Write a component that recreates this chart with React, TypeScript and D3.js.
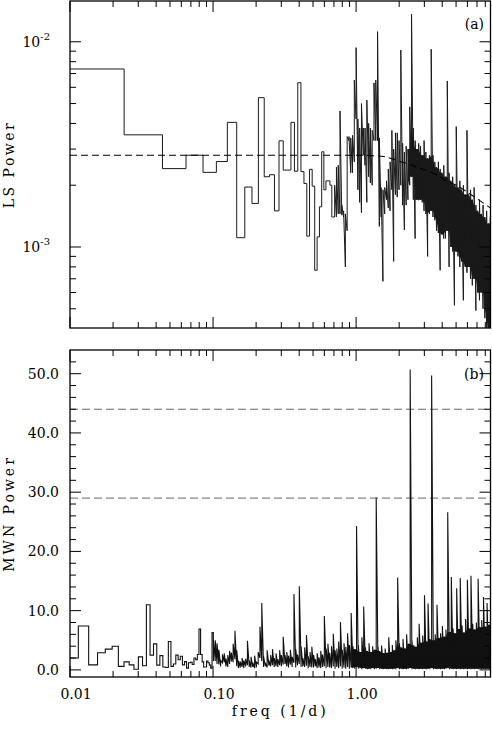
import React from 'react';
import * as d3 from 'd3';

const W = 492;
const H = 729;
const FONT = '"DejaVu Serif", serif';

// ---- panel (a): Lomb-Scargle power, in units of 1e-3 ----
// coarse bins at low frequency (centre = LS_F0 + k * LS_DF)
const LS_F0 = 0.0137;
const LS_DF = 0.0204;
const lsBinPower = [
  7.37, 3.52, 2.41, 2.8, 2.31, 2.61, 4.05, 1.11, 1.96, 1.63,
  5.34, 2.2, 2.25, 1.5, 3.29, 2.37, 2.37, 4.05, 2.34, 6.32,
  2.33, 2.04, 1.13, 2.39, 1.98, 0.77, 1.12, 1.57, 2.91, 1.9,
  2.1, 2.1, 2.0, 1.4,
];
// dense part: one column per COL_DLOG step in log10(freq), high / low power in the column
const COL_DLOG = 0.0125;
const LS_COL_LOG0 = -0.15;
const lsColHi = [
  2.0, 2.45, 2.5, 4.6, 1.6, 1.5, 1.45, 3.45, 3.45, 3.4,
  3.5, 6.5, 9.36, 4.2, 3.8, 5.0, 3.8, 3.8, 5.2, 4.0,
  3.8, 3.7, 6.3, 6.5, 11.2, 3.4, 1.95, 1.9, 1.95, 2.1,
  2.4, 2.6, 3.7, 3.0, 3.6, 3.6, 3.3, 9.12, 3.2, 2.9,
  3.1, 3.0, 4.82, 13.6, 3.8, 3.3, 3.0, 3.2, 3.1, 2.8,
  3.3, 2.9, 2.7, 2.8, 9.2, 2.8, 2.6, 2.45, 2.6, 2.4,
  2.3, 2.5, 2.2, 6.44, 2.3, 2.1, 2.2, 2.0, 3.86, 1.95,
  2.1, 1.9, 2.0, 1.8, 3.7, 1.8, 1.9, 1.7, 1.95, 1.6,
  1.5, 1.7, 1.45, 1.6, 1.4, 1.5, 1.3, 1.4,
];
const lsColLo = [
  1.4, 1.4, 1.45, 1.45, 1.43, 1.4, 0.8, 1.2, 3.3, 2.3,
  2.3, 2.6, 4.2, 1.9, 1.65, 1.47, 2.8, 2.5, 1.65, 2.2,
  2.05, 2.0, 3.3, 3.3, 3.3, 1.26, 1.4, 0.68, 1.45, 1.7,
  1.55, 1.5, 1.9, 0.85, 1.8, 1.75, 1.9, 2.0, 1.6, 1.21,
  1.6, 1.7, 2.0, 2.2, 1.7, 1.1, 1.7, 1.69, 1.7, 1.65,
  1.5, 1.45, 0.9, 1.45, 1.5, 1.4, 1.35, 1.2, 1.17, 0.77,
  1.15, 1.1, 1.1, 1.2, 0.8, 1.0, 0.95, 0.52, 0.95, 0.9,
  0.8, 0.85, 0.55, 0.8, 0.75, 0.8, 0.7, 0.65, 0.7, 0.49,
  0.6, 0.55, 0.6, 0.5, 0.45, 0.38, 0.33, 0.3,
];
const LS_SOLID_FROM = 2.3; // above this the trace is a solid mass
// noise model (dashed)
const lsModelFreq = [0.01, 0.5, 1.0, 1.5, 2.0, 2.8, 3.5, 4.3, 5.0, 6.0, 7.0, 8.7];
const lsModelPower = [2.8, 2.8, 2.8, 2.77, 2.62, 2.42, 2.28, 2.1, 2.0, 1.85, 1.72, 1.55];

// ---- panel (b): MWN power ----
const MWN_F0 = 0.0104;
const MWN_DF = 0.00207;
const mwnBinPower = [
  2.0, 7.4, 0.85, 2.9, 3.5, 4.0, 0.6, 1.35, 0.85, 0.1,
  2.2, 0.7, 11.0, 2.5, 4.4, 0.8, 2.4, 0.5, 0.4, 4.8,
  0.6, 1.0, 2.5, 1.7, 2.3, 0.85, 1.4, 0.3, 1.2, 1.3,
  0.9, 2.0, 1.7, 2.6, 6.9, 2.6, 1.35, 0.5, 0.5, 1.5,
  1.2, 0.8, 0.3, 6.3,
];
const MWN_COL_LOG0 = -0.997;
const mwnColHi = [
  5.0, 5.0, 4.5, 3.4, 1.6, 2.6, 2.8, 1.9, 2.5, 3.2,
  2.9, 4.4, 6.6, 3.3, 1.5, 1.4, 2.0, 1.6, 1.9, 4.9,
  1.6, 2.2, 1.2, 2.4, 1.3, 3.0, 7.3, 11.3, 2.3, 1.2,
  3.3, 1.6, 2.5, 3.5, 2.0, 2.8, 1.8, 3.3, 2.5, 5.6,
  2.5, 3.0, 2.4, 3.4, 2.2, 12.8, 3.5, 2.6, 14.1, 4.0,
  2.0, 3.8, 5.9, 2.3, 3.0, 3.9, 2.5, 1.8, 2.8, 2.1,
  3.2, 2.6, 9.1, 3.6, 4.4, 2.9, 4.0, 6.1, 3.3, 3.6,
  4.8, 8.1, 3.4, 4.5, 3.9, 6.2, 4.2, 9.6, 4.0, 3.5,
  24.3, 4.2, 3.0, 5.5, 10.7, 3.8, 3.2, 4.5, 3.0, 4.0,
  3.4, 29.1, 4.0, 3.2, 4.1, 2.8, 3.6, 2.9, 5.5, 3.0,
  4.2, 3.3, 5.0, 15.6, 4.5, 3.8, 5.2, 3.6, 6.0, 4.4,
  50.7, 5.0, 4.2, 3.9, 5.5, 7.8, 4.6, 5.8, 12.6, 4.8,
  11.2, 5.2, 49.7, 5.0, 6.0, 11.0, 5.4, 6.2, 7.4, 5.6,
  6.8, 26.6, 6.4, 15.7, 7.0, 6.2, 13.8, 6.9, 15.5, 7.5,
  6.3, 8.6, 15.2, 7.0, 15.9, 7.8, 6.8, 8.0, 15.4, 7.2,
  8.4, 12.3, 7.3, 11.3, 7.6, 8.2,
];
const mwnColLo = [
  1.5, 1.5, 1.0, 0.9, 0.6, 1.2, 1.3, 0.6, 0.5, 1.0,
  1.4, 1.3, 1.8, 0.6, 0.3, 0.4, 0.5, 0.3, 0.6, 0.8,
  0.5, 0.4, 0.5, 0.3, 0.4, 1.0, 2.0, 1.5, 0.5, 0.6,
  0.4, 0.7, 0.6, 0.8, 0.5, 0.6, 0.5, 0.8, 0.6, 0.9,
  1.0, 0.6, 0.4, 0.9, 0.5, 1.2, 0.4, 0.8, 1.0, 0.5,
  0.6, 0.5, 0.7, 0.3, 0.5, 0.4, 0.4, 0.6, 0.3, 0.4,
  0.3, 0.5, 0.6, 0.3, 0.5, 0.4, 0.3, 0.6, 0.2, 0.5,
  0.3, 0.6, 0.2, 0.4, 0.2, 0.5, 0.2, 0.4, 0.3, 0.2,
  0.5, 0.2, 0.3, 0.1, 0.3, 0.2, 0.1, 0.2, 0.1, 0.3,
  0.1, 0.2, 0.3, 0.1, 0.2, 0.1, 0.2, 0.1, 0.1, 0.2,
  0.1, 0.2, 0.1, 0.3, 0.1, 0.2, 0.1, 0.2, 0.1, 0.2,
  0.3, 0.1, 0.2, 0.1, 0.2, 0.1, 0.2, 0.1, 0.2, 0.1,
  0.2, 0.1, 0.3, 0.1, 0.2, 0.1, 0.2, 0.1, 0.2, 0.1,
  0.2, 0.3, 0.1, 0.2, 0.1, 0.2, 0.1, 0.2, 0.1, 0.2,
  0.1, 0.2, 0.1, 0.2, 0.1, 0.2, 0.1, 0.2, 0.1, 0.2,
  0.1, 0.2, 0.1, 0.2, 0.1, 0.2,
];
const MWN_SOLID_FROM = 0.9;
const mwnLevels = [44, 29];

const freqTickValues = [0.01, 0.1, 1];
const freqTickLabels = ['0.01', '0.10', '1.00'];
const lsTickValues = [10, 1];
const lsTickExps = ['-2', '-3'];
const mwnTickValues = [0, 10, 20, 30, 40, 50];

type Pt = [number, number];
type Band = [number, number, number];

const colFreq = (log0: number, i: number) => Math.pow(10, log0 + i * COL_DLOG);

// histogram-style bins followed by the dense columns
function tracePoints(f0: number, df: number, bins: number[], log0: number, hi: number[], lo: number[]): Pt[] {
  const pts: Pt[] = [];
  bins.forEach((v, k) => {
    const fc = f0 + k * df;
    pts.push([fc - df / 2, v], [fc + df / 2, v]);
  });
  hi.forEach((h, i) => {
    pts.push([colFreq(log0, i), lo[i]], [colFreq(log0, i), h]);
  });
  return pts;
}

// the part every neighbouring column covers: drawn solid, like the overplotted original
function coreBand(log0: number, hi: number[], lo: number[], from: number): Band[] {
  const n = hi.length;
  return hi
    .map((_, i): Band => {
      const a = Math.max(0, i - 1);
      const b = Math.min(n, i + 2);
      return [colFreq(log0, i), d3.max(lo.slice(a, b)) as number, d3.min(hi.slice(a, b)) as number];
    })
    .filter((d) => d[0] >= from);
}

function logMinors(lo: number, hi: number) {
  const out: { v: number; major: boolean }[] = [];
  for (let d = -5; d <= 2; d++) {
    for (let m = 1; m <= 9; m++) {
      const v = m * Math.pow(10, d);
      if (v >= lo * 0.9999 && v <= hi) out.push({ v, major: m === 1 });
    }
  }
  return out;
}

function App() {
  const x = d3.scaleLog().domain([0.01, 8.7]).range([70, 490.5]);
  const yLs = d3.scaleLog().domain([0.403, 15.8]).range([328, 1]);
  const yMwn = d3.scaleLinear().domain([-1.2, 54]).range([677, 350]);

  const [x0, x1] = x.range();
  const MAJ = 11;
  const MIN = 6;

  const lsPts = tracePoints(LS_F0, LS_DF, lsBinPower, LS_COL_LOG0, lsColHi, lsColLo);
  const mwnPts = tracePoints(MWN_F0, MWN_DF, mwnBinPower, MWN_COL_LOG0, mwnColHi, mwnColLo);

  const lsLine = d3.line<Pt>().x((d) => x(d[0])).y((d) => yLs(d[1]));
  const mwnLine = d3.line<Pt>().x((d) => x(d[0])).y((d) => yMwn(d[1]));
  const modelLine = d3
    .line<number>()
    .x((d) => x(d))
    .y((d, i) => yLs(lsModelPower[i]))
    .curve(d3.curveMonotoneX);

  const lsArea = d3
    .area<Band>()
    .defined((d) => d[2] > d[1])
    .x((d) => x(d[0]))
    .y0((d) => yLs(d[1]))
    .y1((d) => yLs(d[2]));
  const mwnArea = d3
    .area<Band>()
    .defined((d) => d[2] > d[1])
    .x((d) => x(d[0]))
    .y0((d) => yMwn(d[1]))
    .y1((d) => yMwn(d[2]));

  const lsCore = coreBand(LS_COL_LOG0, lsColHi, lsColLo, LS_SOLID_FROM);
  const mwnCore = coreBand(MWN_COL_LOG0, mwnColHi, mwnColLo, MWN_SOLID_FROM);

  const xTicks = logMinors(0.01, 8.7);
  const lsYTicks = logMinors(0.403, 15.8);
  const mwnYTicks = d3.range(0, 54, 2).map((v) => ({ v, major: v % 10 === 0 }));

  // x ticks on top and bottom of a panel, y ticks on both sides
  const frameTicks = (yTop: number, yBot: number, yTicks: { y: number; major: boolean }[], key: string) => (
    <g stroke="#000" strokeWidth={1}>
      {xTicks.map((t, i) => {
        const px = x(t.v);
        const len = t.major ? MAJ : MIN;
        return (
          <g key={`${key}x${i}`}>
            <line x1={px} x2={px} y1={yTop} y2={yTop + len} />
            <line x1={px} x2={px} y1={yBot} y2={yBot - len} />
          </g>
        );
      })}
      {yTicks.map((t, i) => {
        const len = t.major ? MAJ : MIN;
        return (
          <g key={`${key}y${i}`}>
            <line x1={x0} x2={x0 + len} y1={t.y} y2={t.y} />
            <line x1={x1} x2={x1 - len} y1={t.y} y2={t.y} />
          </g>
        );
      })}
    </g>
  );

  return (
    <svg
      width={W}
      height={H}
      style={{ position: 'absolute', left: 0, top: 0, background: '#fff' }}
      fontFamily={FONT}
    >
      <defs>
        <clipPath id="clipLs">
          <rect x={x0} y={1} width={x1 - x0} height={327} />
        </clipPath>
        <clipPath id="clipMwn">
          <rect x={x0} y={350} width={x1 - x0} height={327} />
        </clipPath>
      </defs>

      {/* panel (a) */}
      <g clipPath="url(#clipLs)">
        <path d={lsArea(lsCore) || ''} fill="#1a1a1a" stroke="none" />
        <path d={lsLine(lsPts) || ''} fill="none" stroke="#1a1a1a" strokeWidth={1} />
        <path
          d={modelLine(lsModelFreq) || ''}
          fill="none"
          stroke="#000"
          strokeWidth={1.1}
          strokeDasharray="7,4"
        />
      </g>
      <rect x={x0} y={1} width={x1 - x0} height={327} fill="none" stroke="#000" strokeWidth={1.3} />
      {frameTicks(1, 328, lsYTicks.map((t) => ({ y: yLs(t.v), major: t.major })), 'ls')}
      {lsTickValues.map((v, i) => (
        <text key={v} x={50} y={yLs(v) + 5} textAnchor="end" fontSize={14}>
          10
          <tspan dy={-7} fontSize={10}>
            {lsTickExps[i]}
          </tspan>
        </text>
      ))}
      <text
        transform={`translate(14,${(1 + 328) / 2}) rotate(-90)`}
        textAnchor="middle"
        fontSize={14}
        letterSpacing={2.5}
      >
        LS Power
      </text>
      <text x={484} y={29} textAnchor="end" fontSize={14}>
        (a)
      </text>

      {/* panel (b) */}
      <g clipPath="url(#clipMwn)">
        {mwnLevels.map((v) => (
          <line
            key={v}
            x1={x0}
            x2={x1}
            y1={yMwn(v)}
            y2={yMwn(v)}
            stroke="#666"
            strokeWidth={1}
            strokeDasharray="8,4"
          />
        ))}
        <path d={mwnArea(mwnCore) || ''} fill="#111" stroke="none" />
        <path d={mwnLine(mwnPts) || ''} fill="none" stroke="#111" strokeWidth={1.1} />
      </g>
      <rect x={x0} y={350} width={x1 - x0} height={327} fill="none" stroke="#000" strokeWidth={1.3} />
      {frameTicks(350, 677, mwnYTicks.map((t) => ({ y: yMwn(t.v), major: t.major })), 'mwn')}
      {mwnTickValues.map((v) => (
        <text key={v} x={59} y={yMwn(v) + 5} textAnchor="end" fontSize={14}>
          {v.toFixed(1)}
        </text>
      ))}
      <text
        transform={`translate(14,${(350 + 677) / 2}) rotate(-90)`}
        textAnchor="middle"
        fontSize={14}
        letterSpacing={3}
      >
        MWN Power
      </text>
      <text x={484} y={379} textAnchor="end" fontSize={14}>
        (b)
      </text>

      {freqTickValues.map((v, i) => (
        <text key={v} x={x(v) + 6} y={699} textAnchor="middle" fontSize={14}>
          {freqTickLabels[i]}
        </text>
      ))}
      <text x={(x0 + x1) / 2} y={716} textAnchor="middle" fontSize={14} letterSpacing={3}>
        freq (1/d)
      </text>
    </svg>
  );
}

export default App;
